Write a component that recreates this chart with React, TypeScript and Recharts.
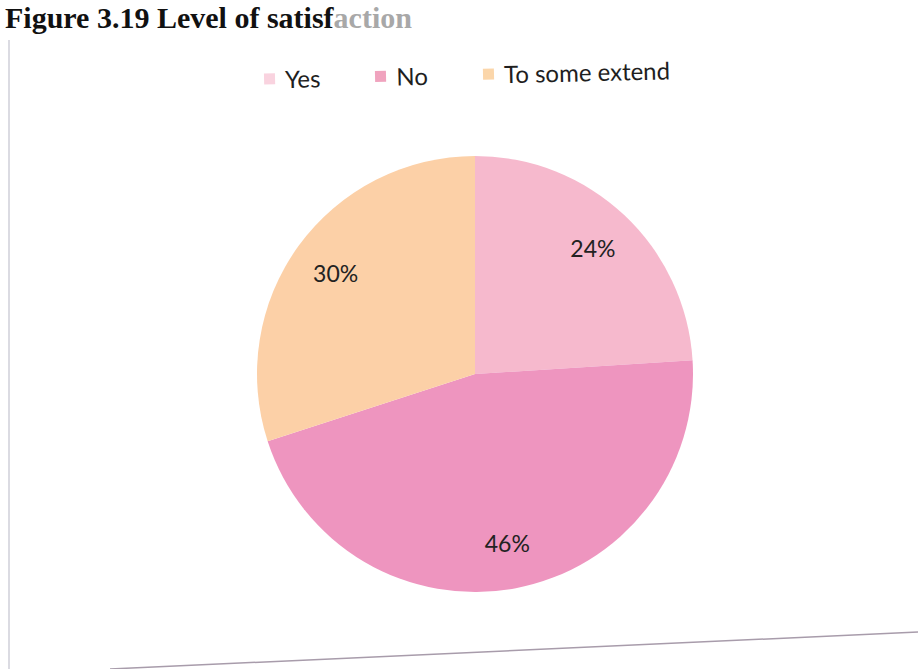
import React from "react";
import { PieChart, Pie, Cell, Legend, Customized } from "recharts";

const categories = ["Yes", "No", "To some extend"];
const values = [24, 46, 30];
const sliceColors = ["#f6b9cd", "#ee95bf", "#fcd0a7"];
const legendColors = ["#f9d3df", "#f0a3be", "#fbd6aa"];
const titleSolid = "Figure 3.19 Level of satisf";
const titleFaded = "action";

const data = categories.map((name, i) => ({ name, value: values[i] }));

const RAD = Math.PI / 180;

const renderLabel = (props: any) => {
  const { cx, cy, midAngle, outerRadius, percent } = props;
  const r = outerRadius * 0.79;
  const x = cx + r * Math.cos(-midAngle * RAD);
  const y = cy + r * Math.sin(-midAngle * RAD);
  return (
    <text
      x={x}
      y={y}
      textAnchor="middle"
      dominantBaseline="central"
      fill="#222"
      fontFamily="Lato, 'Open Sans', sans-serif"
      fontSize={23}
    >
      {`${Math.round(percent * 100)}%`}
    </text>
  );
};

const renderLegend = (props: any) => {
  const payload = [...(props.payload || [])].sort(
    (a: any, b: any) => categories.indexOf(a.value) - categories.indexOf(b.value)
  );
  return (
    <div
      style={{
        display: "flex",
        justifyContent: "center",
        alignItems: "center",
        gap: 55,
        transform: "rotate(-1.3deg)",
        fontFamily: "Lato, 'Open Sans', sans-serif",
        fontSize: 24,
        color: "#1f1f1f",
      }}
    >
      {payload.map((entry: any, i: number) => (
        <div key={i} style={{ display: "flex", alignItems: "center" }}>
          <span
            style={{
              display: "inline-block",
              width: 11,
              height: 11,
              background: legendColors[categories.indexOf(entry.value)],
              marginRight: 10,
            }}
          />
          <span>{entry.value}</span>
        </div>
      ))}
    </div>
  );
};

const Decor = () => (
  <g>
    <text
      x={5}
      y={28}
      fontFamily="'Liberation Serif', 'Times New Roman', serif"
      fontWeight="bold"
      fontSize={30}
      fill="#111"
    >
      {titleSolid}
      <tspan fill="#a8a8a8">{titleFaded}</tspan>
    </text>
    <line x1={9} y1={40} x2={9} y2={669} stroke="#cfcfd8" strokeWidth={1.5} />
    <line x1={110} y1={669} x2={918} y2={632} stroke="#a89cab" strokeWidth={1.5} />
  </g>
);

export default function App() {
  return (
    <div style={{ position: "absolute", top: 0, left: 0, width: 918, height: 669, background: "#fff" }}>
      <PieChart width={918} height={669} margin={{ top: 0, right: 0, bottom: 0, left: 0 }}>
        <Customized component={Decor} />
        <Legend
          layout="horizontal"
          verticalAlign="middle"
          align="center"
          content={renderLegend}
          wrapperStyle={{ top: 60, left: 8, width: 918 }}
        />
        <Pie
          data={data}
          dataKey="value"
          nameKey="name"
          cx={475}
          cy={374}
          outerRadius={218}
          startAngle={90}
          endAngle={-270}
          stroke="none"
          label={renderLabel}
          labelLine={false}
          isAnimationActive={false}
        >
          {data.map((_, i) => (
            <Cell key={i} fill={sliceColors[i]} />
          ))}
        </Pie>
      </PieChart>
    </div>
  );
}
